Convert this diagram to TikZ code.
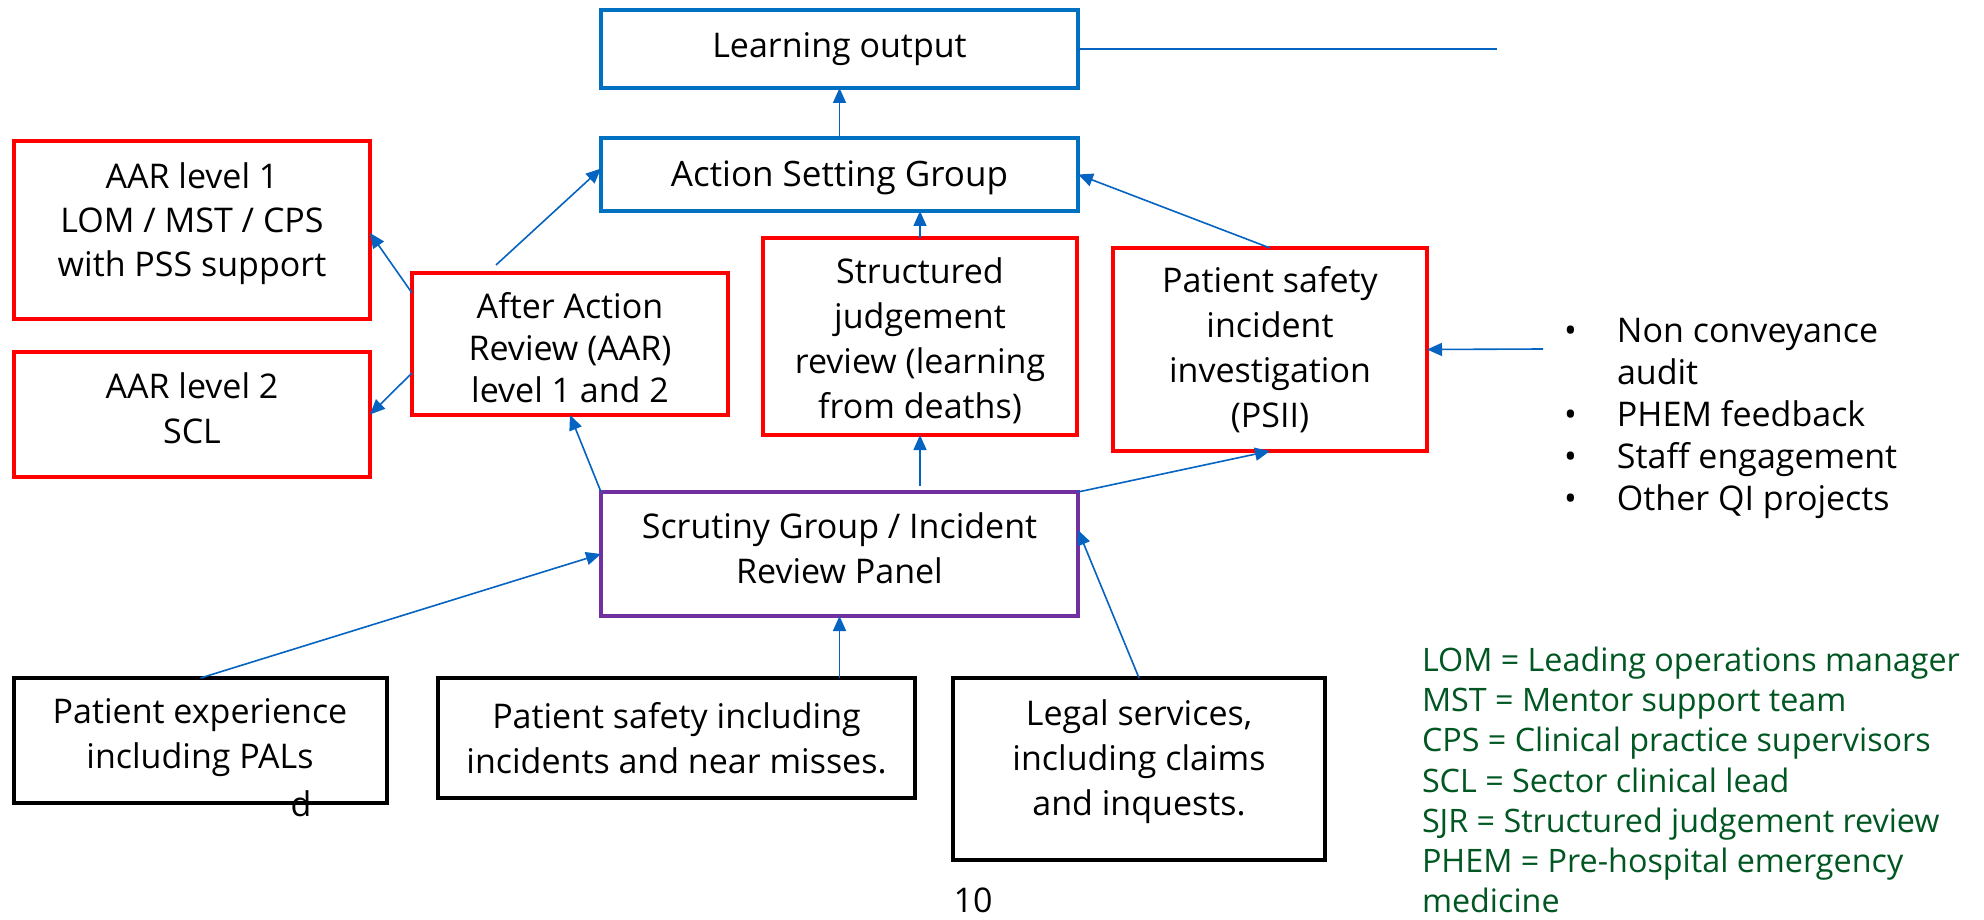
\documentclass[tikz,border=0pt]{standalone}
\usepackage{fontspec}
\setmainfont{Open Sans}
\usetikzlibrary{arrows.meta,calc}
\definecolor{boxblue}{RGB}{0,112,192}
\definecolor{boxred}{RGB}{255,0,0}
\definecolor{boxpurple}{RGB}{112,48,160}
\definecolor{arrowblue}{RGB}{5,99,193}
\definecolor{legendgreen}{RGB}{0,87,34}
\begin{document}
\begin{tikzpicture}[x=1pt,y=-1pt,
  every node/.style={inner sep=0pt, outer sep=0pt},
  txt/.style={font=\fontsize{34}{45}\selectfont, align=center, text=black},
  bul/.style={font=\fontsize{34}{42}\selectfont, align=left, text=black},
  leg/.style={font=\fontsize{32.3}{40.2}\selectfont, align=left, text=legendgreen},
  bbox/.style={draw=boxblue, line width=3.3pt},
  rbox/.style={draw=boxred, line width=3.6pt},
  pbox/.style={draw=boxpurple, line width=3.3pt},
  kbox/.style={draw=black, line width=4pt},
  conn/.style={draw=arrowblue, line width=1.6pt, -{Triangle[length=15pt,width=13pt]}},
  plainline/.style={draw=arrowblue, line width=1.6pt},
  ]
\useasboundingbox (0,0) rectangle (1984,920);
\fill[white] (0,0) rectangle (1984,920);

% blue boxes
\node[bbox, txt, minimum width=477pt, minimum height=78pt] (lo) at (839.5,49) {Learning output};
\node[bbox, minimum width=477pt, minimum height=73pt] (asg) at (839.5,174.5) {};
\node[txt, font=\fontsize{35}{45}\selectfont] (asgt) at (839.5,178) {Action Setting Group};

% red boxes
\node[rbox, minimum width=356pt, minimum height=178pt] (aar1) at (192,230) {};
\node[txt, font=\fontsize{34}{44}\selectfont] (aar1t) at (192,224) {AAR level 1\\LOM / MST / CPS\\with PSS support};
\node[rbox, minimum width=356pt, minimum height=125pt] (aar2) at (192,414.5) {};
\node[txt] (aar2t) at (192,408) {AAR level 2\\SCL};
\node[rbox, minimum width=316pt, minimum height=142pt] (aar) at (570,344) {};
\node[txt, font=\fontsize{34}{42}\selectfont] (aart) at (570,348) {After Action\\Review (AAR)\\level 1 and 2};
\node[rbox, minimum width=314pt, minimum height=197pt] (sjr) at (920,336.5) {};
\node[txt] (sjrt) at (920,341) {Structured\\judgement\\review (learning\\from deaths)};
\node[rbox, txt, minimum width=314pt, minimum height=203pt] (psii) at (1270,349.5) {Patient safety\\incident\\investigation\\(PSII)};

% purple box
\node[pbox, minimum width=477pt, minimum height=124pt] (sg) at (839.5,554) {};
\node[txt] (sgt) at (839.5,548) {Scrutiny Group / Incident\\Review Panel};

% black boxes
\node[kbox, minimum width=373pt, minimum height=125pt] (pe) at (200.5,740.5) {};
\node[txt] (pet) at (200,738) {Patient experience\\including PALs};
\node[txt] (dd) at (301,804) {d};
\node[kbox, txt, minimum width=477pt, minimum height=120pt] (ps) at (676.5,738) {Patient safety including\\incidents and near misses.};
\node[kbox, minimum width=372pt, minimum height=182pt] (legal) at (1139,769) {};
\node[txt] (legalt) at (1139,762) {Legal services,\\including claims\\and inquests.};

% page number
\node[txt] (pnum) at (973,900) {10};

% bullet list
\node[bul, anchor=west] (bl) at (1564,418) {\makebox[53pt][l]{•}Non conveyance\\\hspace*{53pt}audit\\\makebox[53pt][l]{•}PHEM feedback\\\makebox[53pt][l]{•}Staff engagement\\\makebox[53pt][l]{•}Other QI projects};

% legend
\node[leg, anchor=west] (legend) at (1422,780) {LOM = Leading operations manager\\MST = Mentor support team\\CPS = Clinical practice supervisors\\SCL = Sector clinical lead\\SJR = Structured judgement review\\PHEM = Pre-hospital emergency\\medicine};

% free ends
\coordinate (loend) at (1497,49);
\coordinate (bsrc) at (1543,349);

% connectors
\draw[plainline] (lo.east) -- (loend);
\draw[conn] (asg.north) -- (lo.south);
\draw[conn] ($(aar.north)+(-74,-8)$) -- ($(asg.west)+(0,-6)$);
\draw[conn] ($(aar.west)+(0,-51)$) -- ($(aar1.east)+(0,3)$);
\draw[conn] ($(aar.west)+(0,29)$) -- (aar2.east);
\draw[conn] (sjr.north) -- (sjr.north |- asg.south);
\draw[conn] (sg.north west) -- (aar.south);
\draw[conn] ($(sg.north -| sjr.south)+(0,-6)$) -- (sjr.south);
\draw[conn] (sg.north east) -- (psii.south);
\draw[conn] (psii.north) -- (asg.east);
\draw[conn] (bsrc) -- (psii.east);
\draw[conn] (pe.north) -- (sg.west);
\draw[conn] (sg.south |- ps.north) -- (sg.south);
\draw[conn] (legal.north) -- ($(sg.east)+(0,-24)$);
\end{tikzpicture}
\end{document}
